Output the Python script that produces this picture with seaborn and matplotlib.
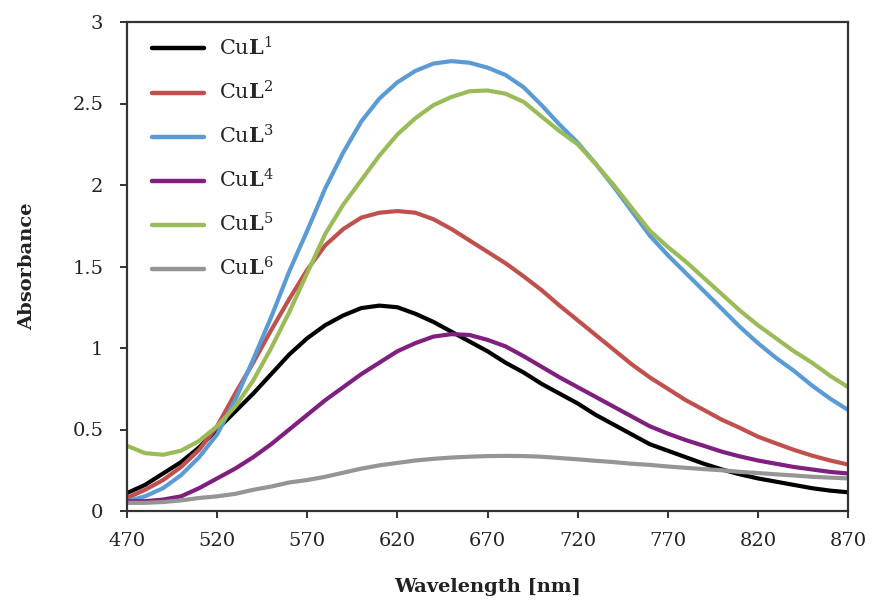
import matplotlib
matplotlib.use("Agg")
import matplotlib.pyplot as plt
import numpy as np
import pandas as pd
import seaborn as sns

# ---------------- data ----------------
wavelength = [470, 480, 490, 500, 510, 520, 530, 540, 550, 560,
              570, 580, 590, 600, 610, 620, 630, 640, 650, 660,
              670, 680, 690, 700, 710, 720, 730, 740, 750, 760,
              770, 780, 790, 800, 810, 820, 830, 840, 850, 860, 870]

cul1 = [0.11, 0.16, 0.23, 0.30, 0.39, 0.50, 0.61, 0.72, 0.84, 0.96,
        1.06, 1.14, 1.20, 1.245, 1.26, 1.25, 1.21, 1.16, 1.10, 1.04,
        0.98, 0.91, 0.85, 0.78, 0.72, 0.66, 0.59, 0.53, 0.47, 0.41,
        0.37, 0.33, 0.29, 0.255, 0.225, 0.20, 0.18, 0.16, 0.14, 0.125, 0.115]

cul2 = [0.08, 0.13, 0.19, 0.27, 0.375, 0.52, 0.72, 0.91, 1.11, 1.30,
        1.48, 1.63, 1.73, 1.80, 1.83, 1.84, 1.83, 1.79, 1.73, 1.66,
        1.59, 1.52, 1.44, 1.355, 1.26, 1.17, 1.08, 0.99, 0.90, 0.82,
        0.75, 0.68, 0.62, 0.56, 0.51, 0.456, 0.415, 0.375, 0.34, 0.31, 0.285]

cul3 = [0.06, 0.09, 0.14, 0.22, 0.33, 0.47, 0.68, 0.93, 1.19, 1.47,
        1.72, 1.98, 2.20, 2.39, 2.53, 2.63, 2.70, 2.745, 2.76, 2.75,
        2.72, 2.675, 2.60, 2.49, 2.37, 2.26, 2.13, 1.99, 1.84, 1.69,
        1.57, 1.46, 1.35, 1.24, 1.13, 1.03, 0.94, 0.86, 0.77, 0.69, 0.62]

cul4 = [0.06, 0.06, 0.07, 0.09, 0.14, 0.20, 0.26, 0.33, 0.41, 0.50,
        0.59, 0.68, 0.76, 0.84, 0.91, 0.98, 1.03, 1.07, 1.085, 1.08,
        1.05, 1.01, 0.95, 0.885, 0.82, 0.76, 0.70, 0.64, 0.58, 0.52,
        0.475, 0.435, 0.40, 0.364, 0.335, 0.31, 0.29, 0.27, 0.255, 0.24, 0.23]

cul5 = [0.40, 0.355, 0.345, 0.37, 0.43, 0.52, 0.64, 0.80, 1.00, 1.22,
        1.46, 1.70, 1.88, 2.03, 2.18, 2.31, 2.41, 2.49, 2.54, 2.575,
        2.58, 2.56, 2.51, 2.42, 2.33, 2.25, 2.13, 2.00, 1.86, 1.72,
        1.62, 1.53, 1.43, 1.33, 1.23, 1.14, 1.06, 0.98, 0.91, 0.83, 0.76]

cul6 = [0.05, 0.05, 0.055, 0.065, 0.08, 0.09, 0.105, 0.13, 0.15, 0.175,
        0.19, 0.21, 0.235, 0.26, 0.28, 0.295, 0.31, 0.32, 0.328, 0.333,
        0.337, 0.338, 0.337, 0.333, 0.325, 0.317, 0.308, 0.30, 0.29, 0.283,
        0.273, 0.265, 0.257, 0.25, 0.24, 0.233, 0.225, 0.218, 0.21, 0.205, 0.20]

series_names = [r"Cu$\mathbf{L}^{\mathrm{1}}$", r"Cu$\mathbf{L}^{\mathrm{2}}$",
                r"Cu$\mathbf{L}^{\mathrm{3}}$", r"Cu$\mathbf{L}^{\mathrm{4}}$",
                r"Cu$\mathbf{L}^{\mathrm{5}}$", r"Cu$\mathbf{L}^{\mathrm{6}}$"]
series_values = [cul1, cul2, cul3, cul4, cul5, cul6]
colors = ["#000000", "#C0504D", "#5B9BD5", "#7F1F80", "#9BBB59", "#959595"]

x_ticks = [470, 520, 570, 620, 670, 720, 770, 820, 870]
y_ticks = [0, 0.5, 1, 1.5, 2, 2.5, 3]
y_tick_labels = ["0", "0.5", "1", "1.5", "2", "2.5", "3"]

# ---------------- frame ----------------
rows = []
for name, vals in zip(series_names, series_values):
    for w, v in zip(wavelength, vals):
        rows.append((w, v, name))
df = pd.DataFrame(rows, columns=["Wavelength", "Absorbance", "Complex"])

sns.set_theme(style="ticks")
plt.rcParams["font.family"] = ["DejaVu Serif"]
plt.rcParams["mathtext.fontset"] = "custom"
plt.rcParams["mathtext.rm"] = "DejaVu Serif"
plt.rcParams["mathtext.bf"] = "DejaVu Serif:bold"
plt.rcParams["mathtext.it"] = "DejaVu Serif:italic"

fig = plt.figure(figsize=(8.72, 6.08), dpi=100)
ax = fig.add_axes([127 / 872, 1 - 511 / 608, 721 / 872, 489 / 608])

sns.lineplot(data=df, x="Wavelength", y="Absorbance", hue="Complex",
             hue_order=series_names, palette=colors, linewidth=3.0,
             estimator=None, sort=False, ax=ax)

ax.set_xlim(470, 870)
ax.set_ylim(0, 3)
ax.set_xticks(x_ticks)
ax.set_xticklabels([str(t) for t in x_ticks])
ax.set_yticks(y_ticks)
ax.set_yticklabels(y_tick_labels)
ax.tick_params(axis="both", direction="out", length=5, width=1.3,
               labelsize=14, colors="#222222")
ax.tick_params(axis="y", pad=12)
ax.tick_params(axis="x", pad=10)
ax.tick_params(top=False, right=False)
for s in ax.spines.values():
    s.set_visible(True)
    s.set_linewidth(1.6)
    s.set_color("#333333")

ax.set_xlabel("Wavelength [nm]", fontsize=14, fontweight="bold",
              color="#222222", labelpad=20)
ax.set_ylabel("Absorbance", fontsize=14, fontweight="bold",
              color="#222222", labelpad=26)

handles, labels = ax.get_legend_handles_labels()
leg = ax.legend(handles, labels, loc="upper left", frameon=False,
                fontsize=15, handlelength=2.5, handletextpad=0.7,
                labelspacing=1.0, borderaxespad=0.3,
                bbox_to_anchor=(0.015, 1.0))
for h in leg.get_lines():
    h.set_linewidth(3.2)

fig.savefig("out.png", dpi=100)
